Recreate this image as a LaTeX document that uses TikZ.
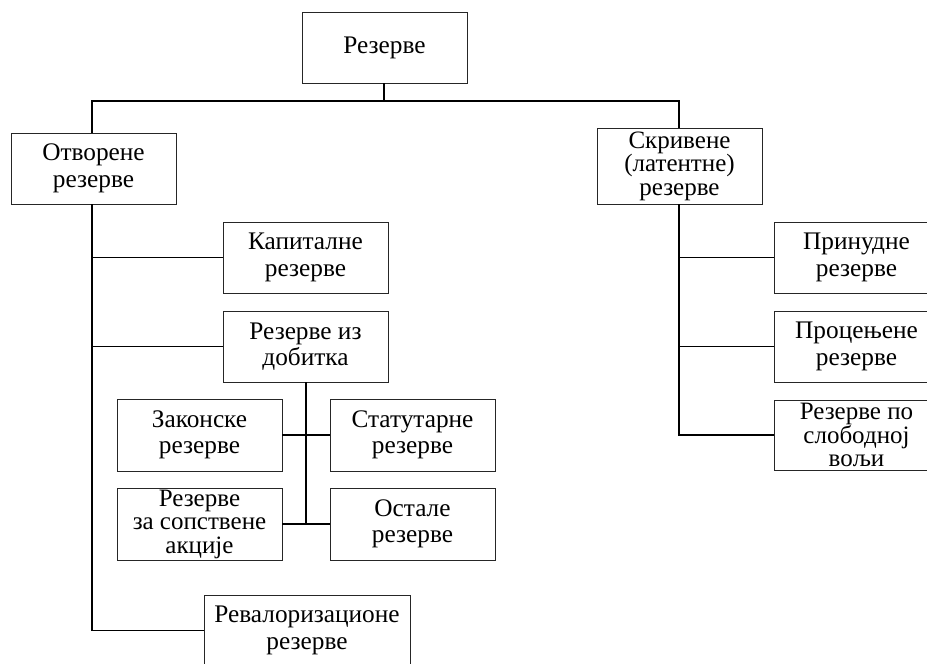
\documentclass[tikz,border=0pt]{standalone}
\usepackage{fontspec}
\setmainfont{Liberation Serif}
\begin{document}
\begin{tikzpicture}[x=1pt,y=-1pt,
  box/.style={draw=black!85,line width=0.9pt,rectangle,minimum width=165pt,minimum height=71pt,
    align=center,inner sep=0pt,font=\fontsize{25.3}{26.5}\selectfont},
  tight/.style={font=\fontsize{25}{23.5}\selectfont},
  link/.style={draw=black,line width=1.1pt}]
\useasboundingbox (0,0) rectangle (927,664);
\clip (0,0) rectangle (927,664);
\fill[white] (0,0) rectangle (927,664);

% root and first level
\node[box] (root) at (384.5,47.5) {Резерве};
\node[box] (otv) at (93.5,168.5) {Отворене\\резерве};
\node[box,tight,minimum height=76pt] (skr) at (679.5,166) {Скривене\\(латентне)\\резерве};

% open reserves
\node[box] (kap) at (305.5,257.5) {Капиталне\\резерве};
\node[box] (dob) at (305.5,346.5) {Резерве из\\добитка};
\node[box,minimum height=72pt] (zak) at (199.5,435) {Законске\\резерве};
\node[box,minimum height=72pt] (stat) at (412.5,435) {Статутарне\\резерве};
\node[box,tight,minimum height=72pt] (sops) at (199.5,524) {Резерве\\за сопствене\\акције};
\node[box,minimum height=72pt] (ost) at (412.5,524) {Остале\\резерве};
\node[box,minimum width=206pt] (rev) at (307,630.5) {Ревалоризационе\\резерве};

% hidden reserves
\node[box] (prin) at (856.5,257.5) {Принудне\\резерве};
\node[box] (proc) at (856.5,346.5) {Процењене\\резерве};
\node[box,tight,minimum height=70pt] (slob) at (856.5,435) {Резерве по\\слободној\\вољи};

% connectors
\coordinate (bus) at (384,101);
\draw[link] (root.south -| bus) -- (bus);
\draw[link] (92,101 |- otv.north) |- (bus) -| (679,101 |- skr.north);

\coordinate (otvtrunk) at (92,204);
\draw[link] (otvtrunk) |- (rev.west);
\draw[link] (otvtrunk |- kap.west) -- (kap.west);
\draw[link] (otvtrunk |- dob.west) -- (dob.west);

\coordinate (dobtrunk) at (306,382);
\draw[link] (dobtrunk) -- (dobtrunk |- sops.east);
\draw[link] (zak.east) -- (stat.west);
\draw[link] (sops.east) -- (ost.west);

\coordinate (skrtrunk) at (679,204);
\draw[link] (skrtrunk) |- (slob.west);
\draw[link] (skrtrunk |- prin.west) -- (prin.west);
\draw[link] (skrtrunk |- proc.west) -- (proc.west);
\end{tikzpicture}
\end{document}
